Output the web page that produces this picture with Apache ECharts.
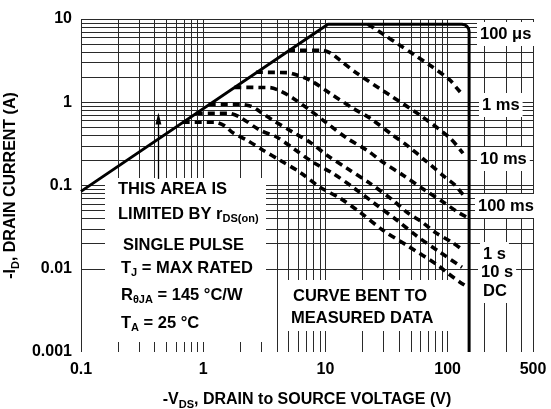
<!DOCTYPE html>
<html><head><meta charset="utf-8">
<script src="https://cdn.jsdelivr.net/npm/echarts@6/dist/echarts.min.js"></script>
<style>html,body{margin:0;padding:0;background:#fff}#c{width:551px;height:409px}</style>
</head><body><div id="c"></div>
<script>
// ---- tick labels & grid values ----
const xTickLabels = [0.1, 1, 10, 100, 500];
const yTickLabels = [0.001, 0.01, 0.1, 1, 10];
const xGridValues = [0.1,0.2,0.3,0.4,0.5,0.6,0.7,0.8,0.9,1,2,3,4,5,6,7,8,9,10,20,30,40,50,60,70,80,90,100,200,300,400,500];
const yGridValues = [0.001,0.002,0.003,0.004,0.005,0.006,0.007,0.008,0.009,0.01,0.02,0.03,0.04,0.05,0.06,0.07,0.08,0.09,0.1,0.2,0.3,0.4,0.5,0.6,0.7,0.8,0.9,1,2,3,4,5,6,7,8,9,10];

// ---- series values [VDS (V), ID (A)] ----
const limitLine = [[0.1,0.085],[10.5,8.65],[131,8.65],[138,8.53],[144,8.18],[148.3,7.68],[150,7.13],[150,0.001]];
const pulse100us = [[22.3,8.65],[30,6.5],[40.7,4.84],[55,3.61],[71.8,2.78],[104.7,1.84],[120,1.46],[133.7,1.21]];
const pulse1ms = [[4.95,4.21],[9.3,4.21],[11.2,3.84],[13.2,3.19],[18.1,2.23],[33.8,1.21],[59.5,0.70],[104.7,0.37],[133.7,0.244]];
const pulse10ms = [[2.7,2.29],[4.9,2.27],[5.43,2.2],[7.48,1.84],[10.9,1.28],[16.8,0.847],[23.2,0.642],[35.7,0.401],[46.5,0.304],[65.3,0.201],[95.2,0.126],[115,0.101],[138.7,0.0723]];
const pulse100ms = [[1.8,1.51],[3.5,1.5],[4.3,1.36],[5.43,1.12],[7.48,0.801],[10.3,0.56],[15.0,0.37],[21.9,0.265],[29.6,0.19],[43.2,0.133],[65.3,0.0877],[95.2,0.0612],[121.6,0.0477],[144.2,0.0416]];
const pulse1s = [[1.11,0.946],[2.0,0.946],[2.5,0.89],[2.92,0.77],[3.72,0.608],[5.43,0.436],[7.48,0.331],[10.3,0.231],[15.0,0.161],[23.2,0.106],[35.7,0.0665],[46.5,0.0477],[62,0.0362],[78.9,0.0274],[108.7,0.0208],[133.7,0.0167]];
const pulse10s = [[0.87,0.738],[1.6,0.738],[2.0,0.66],[2.92,0.461],[4.02,0.38],[5.43,0.28],[7.92,0.19],[11.5,0.14],[16.8,0.0953],[24.5,0.0629],[38.5,0.0383],[56.2,0.0246],[86.7,0.0158],[131.2,0.0104]];
const pulseDC = [[0.68,0.575],[1.25,0.575],[1.5,0.52],[1.75,0.43],[2.28,0.35],[3.09,0.265],[4.25,0.201],[6.2,0.144],[9.04,0.0953],[13.2,0.0703],[19.2,0.0477],[29.6,0.029],[46.5,0.0191],[83.4,0.011],[100.7,0.0088],[126.3,0.0069],[146.9,0.006]];
const arrowLine = [[0.43,0.12],[0.43,0.64]];

// ---- texts ----
const curveLabels = ['100 μs','1 ms','10 ms','100 ms','1 s','10 s','DC'];
const xAxisTitle = ['-V', 'DS', ', DRAIN to SOURCE VOLTAGE (V)'];
const yAxisTitle = ['-I', 'D', ', DRAIN CURRENT (A)'];

const FONT = 'Liberation Sans, Arial, Helvetica, sans-serif';
const chart = echarts.init(document.getElementById('c'), null, {renderer: 'canvas'});

const mainRich = {fontFamily: FONT, fontWeight: 'bold', fontSize: 16.5, color: '#000', lineHeight: 24};
const subRich = {fontFamily: FONT, fontWeight: 'bold', fontSize: 11, color: '#000', padding: [10, 0, 0, 0]};
const rich = {b: mainRich, s: subRich};

function txt(x, y, text, extra) {
  return {
    type: 'text', x: x, y: y, z: 20, silent: true,
    style: Object.assign({text: text, rich: rich, fill: '#000', font: 'bold 16px ' + FONT, align: 'left', verticalAlign: 'middle'}, extra || {})
  };
}

const labelPos = [[477,34],[479,105],[477,159],[475,206],[480,254],[478,272],[480,291]];
const labelEls = curveLabels.map((t, i) => txt(labelPos[i][0], labelPos[i][1], '{b|' + t + '}', {backgroundColor: '#fff', padding: [0, 3, 0, 3]}));

const dashStyle = {color: '#000', width: 3.6, type: [7, 5], cap: 'butt'};
function dashSeries(name, data) {
  return {name: name, type: 'line', data: data, showSymbol: false, symbol: 'none', smooth: 0.3,
    lineStyle: dashStyle, z: 10, silent: true, animation: false};
}

const fmt = v => String(+Number(v).toPrecision(6));

chart.setOption({
  animation: false,
  backgroundColor: '#fff',
  grid: {left: 81, right: 18, top: 19, bottom: 57, containLabel: false, outerBoundsMode: 'none'},
  xAxis: {
    type: 'log', logBase: 10, min: 0.1, max: 500,
    axisLine: {show: false}, axisTick: {show: false}, splitLine: {show: false}, minorSplitLine: {show: false},
    axisLabel: {customValues: xTickLabels, formatter: fmt, fontFamily: FONT, fontWeight: 'bold', fontSize: 16, color: '#000', margin: 10, showMinLabel: true, showMaxLabel: true},
    name: '{b|' + xAxisTitle[0] + '}{s|' + xAxisTitle[1] + '}{b|' + xAxisTitle[2] + '}',
    nameLocation: 'middle', nameGap: 36,
    nameTextStyle: {rich: {b: Object.assign({}, mainRich, {fontSize: 16}), s: subRich}}
  },
  yAxis: {
    type: 'log', logBase: 10, min: 0.001, max: 10,
    axisLine: {show: false}, axisTick: {show: false}, splitLine: {show: false}, minorSplitLine: {show: false},
    axisLabel: {customValues: yTickLabels, formatter: fmt, fontFamily: FONT, fontWeight: 'bold', fontSize: 16, color: '#000', margin: 9, showMinLabel: true, showMaxLabel: true},
    name: '{b|' + yAxisTitle[0] + '}{s|' + yAxisTitle[1] + '}{b|' + yAxisTitle[2] + '}',
    nameLocation: 'middle', nameGap: 45, nameRotate: 90,
    nameTextStyle: {rich: {b: Object.assign({}, mainRich, {fontSize: 16}), s: subRich}}
  },
  graphic: {elements: [
    {type: 'rect', z: 5, silent: true, shape: {x: 105, y: 178, width: 161, height: 164}, style: {fill: '#fff'}},
    {type: 'rect', z: 5, silent: true, shape: {x: 279, y: 280, width: 169, height: 51}, style: {fill: '#fff'}},
    txt(118, 189, '{b|THIS AREA IS}'),
    txt(118, 214, '{b|LIMITED BY r}{s|DS(on)}'),
    txt(123, 245, '{b|SINGLE PULSE}'),
    txt(121, 268, '{b|T}{s|J}{b| = MAX RATED}'),
    txt(121, 295, '{b|R}{s|θJA}{b| = 145 °C/W}'),
    txt(121, 323, '{b|T}{s|A}{b| = 25 °C}'),
    txt(293, 296, '{b|CURVE BENT TO}'),
    txt(291, 318, '{b|MEASURED DATA}')
  ].concat(labelEls)},
  series: [
    {type: 'line', data: [[0.1, 0.001]], showSymbol: false, symbol: 'none', z: 1, silent: true,
      lineStyle: {width: 0},
      markLine: {z: 1, silent: true, symbol: ['none', 'none'], label: {show: false}, animation: false,
        emphasis: {disabled: true},
        lineStyle: {color: '#2a2a2a', width: 1, type: 'solid'},
        data: xGridValues.map(v => ({xAxis: v})).concat(yGridValues.map(v => ({yAxis: v})))}},
    {name: 'limit', type: 'line', data: limitLine, showSymbol: false, symbol: 'none', z: 10, silent: true,
      lineStyle: {color: '#000', width: 3, join: 'round'},
      markLine: {z: 12, silent: true, symbol: ['none', 'triangle'], symbolSize: [6, 12], label: {show: false}, animation: false,
        lineStyle: {color: '#000', width: 1.3, type: 'solid'},
        data: [[{coord: arrowLine[0]}, {coord: arrowLine[1]}]]}},
    dashSeries('100us', pulse100us),
    dashSeries('1ms', pulse1ms),
    dashSeries('10ms', pulse10ms),
    dashSeries('100ms', pulse100ms),
    dashSeries('1s', pulse1s),
    dashSeries('10s', pulse10s),
    dashSeries('DC', pulseDC)
  ]
});
</script></body></html>
